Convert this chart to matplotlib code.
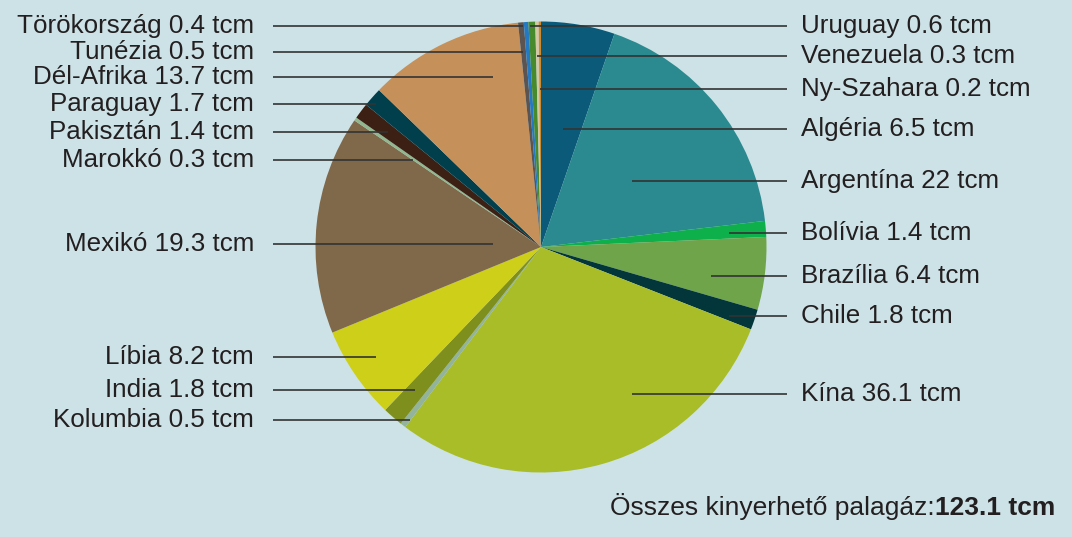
import matplotlib
matplotlib.use("Agg")
import matplotlib.pyplot as plt

# ---- data (clockwise from 12 o'clock) ----
countries = ["Algéria", "Argentína", "Bolívia", "Brazília", "Chile", "Kína",
             "Kolumbia", "India", "Líbia", "Mexikó", "Marokkó", "Pakisztán",
             "Paraguay", "Dél-Afrika", "Tunézia", "Törökország", "Uruguay",
             "Venezuela", "Ny-Szahara"]
values = [6.5, 22, 1.4, 6.4, 1.8, 36.1, 0.5, 1.8, 8.2, 19.3, 0.3, 1.4,
          1.7, 13.7, 0.5, 0.4, 0.6, 0.3, 0.2]
colors = ["#0b5a7a", "#2a8a8f", "#0db04b", "#70a44a", "#02363b", "#a8bd28",
          "#93b49a", "#7f8f1d", "#cdcf18", "#80684b", "#92b890", "#3b2013",
          "#023f4d", "#c59059", "#5b5450", "#2479c1", "#478a2e", "#d3c7a6",
          "#cf8a2e"]
total_label = "123.1 tcm"
unit = "tcm"

# ---- layout (pixel coordinates, y from top) ----
W, H = 1072, 537
CX, CY, R = 541, 247, 225.5
# label side, line y, inner x end of leader line
layout = {
    "Törökország": ("L", 26, 523),
    "Tunézia": ("L", 52, 523),
    "Dél-Afrika": ("L", 77, 493),
    "Paraguay": ("L", 104, 376),
    "Pakisztán": ("L", 132, 388),
    "Marokkó": ("L", 160, 413),
    "Mexikó": ("L", 244, 493),
    "Líbia": ("L", 357, 376),
    "India": ("L", 390, 415),
    "Kolumbia": ("L", 420, 410),
    "Uruguay": ("R", 26, 530),
    "Venezuela": ("R", 56, 537),
    "Ny-Szahara": ("R", 89, 540),
    "Algéria": ("R", 129, 563),
    "Argentína": ("R", 181, 632),
    "Bolívia": ("R", 233, 729),
    "Brazília": ("R", 276, 711),
    "Chile": ("R", 316, 729),
    "Kína": ("R", 394, 632),
}
LEFT_LINE_X, LEFT_TEXT_X = 273, 254
RIGHT_LINE_X, RIGHT_TEXT_X = 787, 801
FS = 18.7

BG = "#cde2e6"
TXT = "#231f20"
LINE = "#333333"

plt.rcParams["font.family"] = ["Liberation Sans", "DejaVu Sans"]

fig = plt.figure(figsize=(W / 100, H / 100), dpi=100, facecolor=BG)
ax = fig.add_axes([0, 0, 1, 1])
ax.set_facecolor(BG)

def Y(py):
    return H - py

ax.pie(values, colors=colors, startangle=90, counterclock=False,
       center=(CX, Y(CY)), radius=R, frame=False,
       wedgeprops=dict(linewidth=0))

ax.set_xlim(0, W)
ax.set_ylim(0, H)
ax.set_aspect("equal")
ax.axis("off")

for name, val in zip(countries, values):
    side, ly, xin = layout[name]
    label = f"{name} {val:g} {unit}"
    if side == "L":
        ax.plot([LEFT_LINE_X, xin], [Y(ly), Y(ly)], color=LINE, lw=1.2,
                solid_capstyle="butt", zorder=3)
        ax.text(LEFT_TEXT_X, Y(ly + 7), label, ha="right", va="baseline",
                fontsize=FS, color=TXT)
    else:
        ax.plot([xin, RIGHT_LINE_X], [Y(ly), Y(ly)], color=LINE, lw=1.2,
                solid_capstyle="butt", zorder=3)
        ax.text(RIGHT_TEXT_X, Y(ly + 7), label, ha="left", va="baseline",
                fontsize=FS, color=TXT)

t1 = ax.text(1055, Y(515), total_label, ha="right", va="baseline",
             fontsize=19, fontweight="bold", color=TXT)
fig.canvas.draw()
bb = t1.get_window_extent()
x_left = ax.transData.inverted().transform((bb.x0, bb.y0))[0]
ax.text(x_left, Y(515), "Összes kinyerhető palagáz:", ha="right",
        va="baseline", fontsize=19, color=TXT)

fig.savefig("out.png", dpi=100, facecolor=BG)
